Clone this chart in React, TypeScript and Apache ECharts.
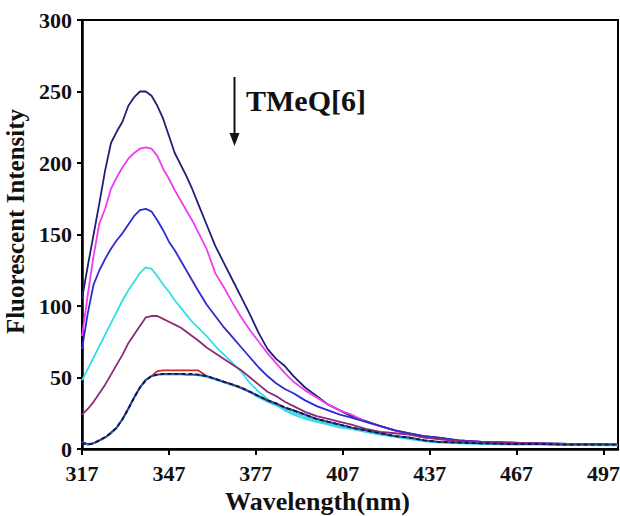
import React, { useEffect, useRef } from "react";
import * as echarts from "echarts";

// Emission wavelengths (nm) at which the spectra are sampled
const wavelengths = [
  317, 319, 321, 323, 325, 327, 329, 331, 333, 335, 337, 339, 341, 343, 345, 347, 349, 351, 353, 355,
  357, 360, 363, 366, 369, 372, 375, 378, 381, 384, 387, 390, 394, 398, 402, 406, 410, 415, 420, 425,
  430, 435, 440, 447, 455, 465, 475, 485, 495, 502,
];

// Fluorescence spectra recorded with increasing amounts of TMeQ[6]
const spectrum1 = [
  105, 128, 150, 172, 195, 214, 222, 229, 240, 246, 250, 250, 247, 240, 231, 219, 207, 199, 191, 182,
  172, 157, 142, 130, 118, 106, 94, 81, 70, 63, 58, 51, 43, 37, 31, 27, 23, 19.5, 16, 13,
  11, 9, 8, 6, 5, 4.5, 4, 3.5, 3.5, 3,
];
const spectrum2 = [
  79, 108, 135, 158, 168, 182, 190, 197, 203, 207, 210, 211, 210, 205, 196, 189, 181, 174, 167, 160,
  152, 140, 123, 113, 102, 92, 83, 75, 67, 60, 53, 47, 41, 36, 31, 27, 24, 19, 16, 13,
  10, 9, 7, 6, 5, 4, 3.5, 3, 3, 3,
];
const spectrum3 = [
  70, 95, 115, 125, 133, 140, 146, 151, 157, 163, 167, 168, 166, 160, 153, 145, 139, 132, 125, 118,
  111, 101, 93, 85, 78, 71, 64, 57, 51, 46, 42, 39, 34, 30, 27, 24, 22, 19, 16, 13,
  11, 9, 8, 6, 5, 4.5, 4, 3.5, 3, 3,
];
const spectrum4 = [
  48, 56, 64, 72, 80, 88, 96, 104, 111, 117, 123, 127, 126, 121, 115, 110, 104, 99, 94, 89,
  85, 79, 72, 66, 60, 54, 46, 40, 35, 31, 27, 24, 21, 19, 17, 15, 14, 12, 10, 9,
  8, 6, 5, 4.5, 4, 4, 3.5, 3.5, 3, 3,
];
const spectrum5 = [
  24, 28, 33, 39, 45, 52, 59, 66, 74, 80, 86, 92, 93, 93, 91, 89, 87, 85, 82, 79,
  76, 71, 67, 63, 59, 55, 50, 45, 40, 37, 33, 30, 26, 23, 21, 19, 17, 14, 12, 11,
  10, 8, 7, 5.5, 5, 4.5, 4, 3.5, 3, 3,
];
const spectrum6 = [
  5, 3, 4, 6, 8, 11, 15, 21, 28, 36, 43, 48, 51, 54.5, 55, 55, 55, 55, 55, 55,
  55, 51, 49, 47, 45, 43, 40, 37, 34, 32, 29, 27, 24, 21, 19, 17, 15, 13, 11, 9,
  8, 6, 5, 4.5, 4, 3.5, 3.5, 3, 3, 3,
];
const spectrum7 = [
  4, 3, 4, 6, 8.5, 11, 15, 21, 28, 36, 43, 48, 51, 52, 52.5, 52.5, 52.5, 52.5, 52.5, 52.5,
  52, 51, 49, 47, 45, 43, 40, 37, 34, 32, 29, 27, 24, 21, 19, 17, 15, 13, 11, 9,
  8, 6, 5, 4.5, 4, 3.5, 3.5, 3, 3, 3,
];
const spectrum8 = [
  5, 3.5, 4, 6, 8, 11.5, 15, 21, 28.5, 36, 43, 48.5, 51, 52, 52.5, 52.5, 52.5, 52.5, 52, 52,
  52, 51, 49, 47, 45, 42.5, 40, 37, 34, 31.5, 29, 27, 24, 21, 19, 17, 15, 13, 11, 9,
  8, 6, 5, 4.5, 4, 3.5, 3.5, 3, 3, 3,
];
const spectrum9 = [
  4.5, 3, 4, 6, 8, 11, 15, 21, 28, 36, 43, 48, 51, 52, 52, 52, 52, 52, 52, 52,
  51.5, 50.5, 48.5, 46.5, 44.5, 42.5, 39.5, 36, 33, 30.5, 28, 25.5, 22.5, 20, 18, 16, 14, 12, 10, 8.5,
  7, 5.5, 4.5, 4, 3.5, 3, 3, 3, 2.5, 2.5,
];

const xTickLabels = ["317", "347", "377", "407", "437", "467", "497"];
const yTickLabels = ["0", "50", "100", "150", "200", "250", "300"];

const FONT = "'Liberation Serif', 'Times New Roman', serif";

type Trace = { name: string; values: number[]; color: string; dashed?: boolean };

const traces: Trace[] = [
  { name: "0 eq", values: spectrum1, color: "#1f1f78" },
  { name: "1 eq", values: spectrum2, color: "#f03cf0" },
  { name: "2 eq", values: spectrum3, color: "#2c2cd2" },
  { name: "3 eq", values: spectrum4, color: "#33dde8" },
  { name: "4 eq", values: spectrum5, color: "#8a2c76" },
  { name: "5 eq", values: spectrum6, color: "#d42a2a" },
  { name: "6 eq", values: spectrum9, color: "#3ad6e8" },
  { name: "7 eq", values: spectrum8, color: "#2244cc" },
  { name: "8 eq", values: spectrum7, color: "#1a1a1a", dashed: true },
];

export default function App() {
  const ref = useRef<HTMLDivElement>(null);

  useEffect(() => {
    if (!ref.current) return;
    const chart = echarts.init(ref.current, undefined, { renderer: "svg" });

    const series = traces.map((t) => ({
      name: t.name,
      type: "line",
      data: wavelengths.map((w, i) => [w, t.values[i]]),
      showSymbol: false,
      smooth: false,
      lineStyle: {
        color: t.color,
        width: 1.8,
        type: t.dashed ? [4, 3] : "solid",
      },
      itemStyle: { color: t.color },
    }));

    chart.setOption({
      animation: false,
      backgroundColor: "#ffffff",
      grid: {
        left: 82,
        right: 2,
        top: 20,
        bottom: 67,
        show: true,
        borderColor: "#000",
        borderWidth: 2,
        containLabel: false,
        outerBoundsMode: "none",
      },
      xAxis: {
        type: "value",
        min: 317,
        max: 502,
        interval: 30,
        name: "Wavelength(nm)",
        nameLocation: "middle",
        nameGap: 38,
        nameTextStyle: {
          fontFamily: FONT,
          fontWeight: "bold",
          fontSize: 26,
          color: "#111",
          padding: [0, 65, 0, 0],
        },
        axisLine: { show: true, lineStyle: { color: "#000", width: 2.5 } },
        axisTick: { show: true, inside: false, length: 6, lineStyle: { color: "#000", width: 2 } },
        axisLabel: {
          margin: 13,
          fontFamily: FONT,
          fontWeight: "bold",
          fontSize: 22,
          color: "#111",
          showMaxLabel: false,
          formatter: (v: number) => {
            const s = String(Math.round(v));
            return xTickLabels.includes(s) ? s : "";
          },
        },
        splitLine: { show: false },
      },
      yAxis: {
        type: "value",
        min: 0,
        max: 300,
        interval: 50,
        name: "Fluorescent Intensity",
        nameLocation: "middle",
        nameGap: 41,
        nameTextStyle: {
          fontFamily: FONT,
          fontWeight: "bold",
          fontSize: 25,
          color: "#111",
          padding: [0, 0, 0, 26],
        },
        axisLine: { show: true, lineStyle: { color: "#000", width: 2.5 } },
        axisTick: { show: true, inside: false, length: 5, lineStyle: { color: "#000", width: 2 } },
        axisLabel: {
          margin: 10,
          fontFamily: FONT,
          fontWeight: "bold",
          fontSize: 22,
          color: "#111",
          formatter: (v: number) => {
            const s = String(Math.round(v));
            return yTickLabels.includes(s) ? s : "";
          },
        },
        splitLine: { show: false },
      },
      graphic: [
        {
          type: "line",
          shape: { x1: 234.5, y1: 77, x2: 234.5, y2: 136 },
          style: { stroke: "#111", lineWidth: 2 },
        },
        {
          type: "polygon",
          shape: { points: [[229.5, 133], [239.5, 133], [234.5, 146]] },
          style: { fill: "#111" },
        },
        {
          type: "text",
          x: 246,
          y: 100,
          style: {
            text: "TMeQ[6]",
            fontFamily: FONT,
            fontWeight: "bold",
            fontSize: 30,
            fill: "#111",
            textAlign: "left",
            textVerticalAlign: "middle",
          },
        },
      ],
      series,
    });

    return () => chart.dispose();
  }, []);

  return (
    <div
      ref={ref}
      style={{ position: "fixed", left: 0, top: 0, width: 620, height: 516, background: "#fff" }}
    />
  );
}
